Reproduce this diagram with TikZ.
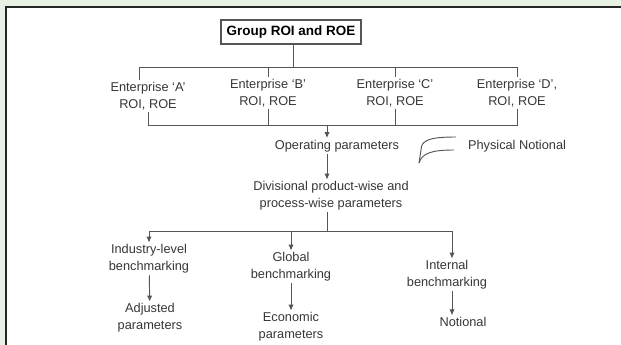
\documentclass[tikz,border=0pt]{standalone}
\usepackage{fontspec}
\setmainfont{Liberation Sans}
\usetikzlibrary{arrows.meta}
\definecolor{G}{RGB}{232,241,228}
\definecolor{L}{RGB}{85,85,85}
\definecolor{T}{RGB}{55,55,55}
\tikzstyle{plain} = [
rectangle,
minimum width=4.2cm,
minimum height=0.72cm,
draw=L,
line width=1pt,
text=black,
font=\fontsize{11.5}{14}\selectfont\bfseries
]
\tikzstyle{txt} = [
align=center,
inner sep=1.5pt,
text=T,
font=\fontsize{10.9}{14.5}\selectfont
]
\tikzstyle{link} = [draw=L, line width=0.8pt]
\tikzstyle{arrow} = [link, -{Latex[length=5pt,width=4.5pt]}]

\begin{document}
\begin{tikzpicture}[x=0.03cm, y=-0.03cm]
      \useasboundingbox (0,0) rectangle (621,345);
      \fill [G] (0,0) rectangle (621,345);
      \fill [white] (6,7) rectangle (621,345);
      \draw [line width=1.7pt, draw=black!85] (6,345) -- (6,7) -- (621,7);
      \node (group) [plain] at (291,32) {Group ROI and ROE};
      \node (entA) [txt] at (148,96) {Enterprise `A'\\ROI, ROE};
      \node (entB) [txt] at (268,93) {Enterprise `B'\\ROI, ROE};
      \node (entC) [txt] at (395,93) {Enterprise `C'\\ROI, ROE};
      \node (entD) [txt] at (517,93) {Enterprise `D',\\ROI, ROE};
      \node (oper) [txt] at (337,146) {Operating parameters};
      \node (phys) [txt] at (517,146) {Physical Notional};
      \node (div) [txt] at (331,196) {Divisional product-wise and\\process-wise parameters};
      \node (ind) [txt] at (149,259) {Industry-level\\benchmarking};
      \node (glob) [txt] at (291,267) {Global\\benchmarking};
      \node (intl) [txt] at (447,275) {Internal\\benchmarking};
      \node (adj) [txt] at (150,318) {Adjusted\\parameters};
      \node (econ) [txt] at (291,327) {Economic\\parameters};
      \node (notl) [txt] at (463,322) {Notional};
      \coordinate (top) at (293,67);
      \coordinate (bot) at (327,125);
      \coordinate (split) at (327,231);
      \coordinate (intIn) at (452,231);
      \draw [link] (group.south -| top) -- (top);
      \draw [link] ([xshift=-7]entA.north) -- ([xshift=-7]entA.north |- top) -- (entD.north |- top) -- (entD.north);
      \draw [link] (entB.north) -- (entB.north |- top);
      \draw [link] (entC.north) -- (entC.north |- top);
      \draw [link] (entA.south) -- (entA.south |- bot) -- (entD.south |- bot) -- (entD.south);
      \draw [link] (entB.south) -- (entB.south |- bot);
      \draw [link] (entC.south) -- (entC.south |- bot);
      \draw [arrow] (bot) -- (bot |- oper.north);
      \draw [arrow] (oper.south -| bot) -- (div.north -| bot);
      % bracket beside the operating parameters
      \coordinate (brA) at (456,137);
      \coordinate (brB) at (454,150);
      \coordinate (brC) at (419,163);
      \draw [link] (brA) .. controls (430,137) and (421,140) .. (421,150) -- (brC);
      \draw [link] (brB) .. controls (432,150) and (422,153) .. (brC);
      \draw [link] (div.south -| split) -- (split);
      \draw [link] (ind.north |- split) -- (intIn);
      \draw [arrow] (ind.north |- split) -- (ind.north);
      \draw [arrow] (glob.north |- split) -- (glob.north);
      \draw [arrow] (intIn) -- (intIn |- intl.north);
      \draw [arrow] (ind) -- (adj);
      \draw [arrow] (glob) -- (econ);
      \draw [arrow] (intl.south -| intIn) -- (notl.north -| intIn);
\end{tikzpicture}
\end{document}
